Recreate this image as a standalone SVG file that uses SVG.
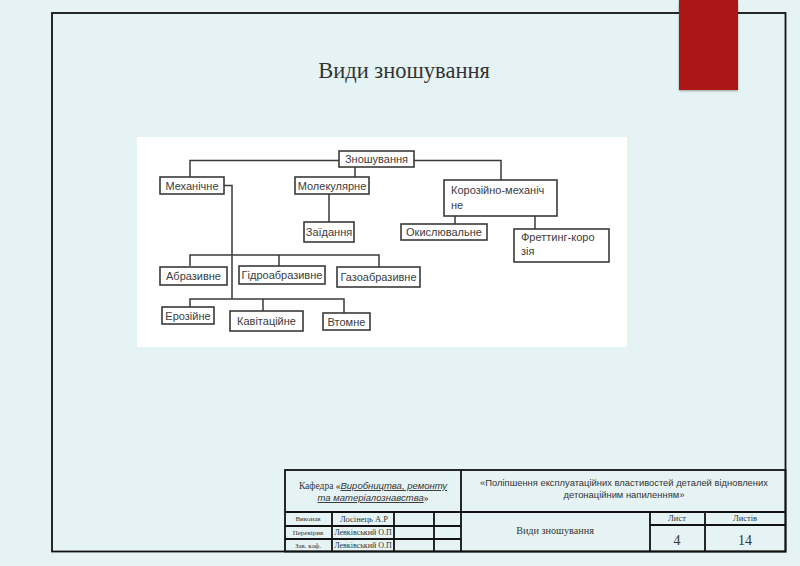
<svg xmlns="http://www.w3.org/2000/svg" width="800" height="566" viewBox="0 0 800 566">
<defs>
<style>
.n rect{fill:#fff;stroke:#3a3a3a;stroke-width:1.6}
.n text{font-family:"Liberation Sans",Arial,sans-serif;font-size:11px;fill:#3c3c3c;text-anchor:middle}
.n text.l{text-anchor:start}
.c path{fill:none;stroke:#3a3a3a;stroke-width:1.5}
.tb{fill:none;stroke:#111;stroke-width:1.8}
.ser{font-family:"Liberation Serif","Times New Roman",serif;fill:#333}
.sans{font-family:"Liberation Sans",Arial,sans-serif;fill:#333}
</style>
<filter id="sh" x="-10%" y="-10%" width="130%" height="130%"><feDropShadow dx="0" dy="1" stdDeviation="1" flood-color="#000" flood-opacity="0.35"/></filter>
</defs>
<rect width="800" height="566" fill="#e6f3f5"/>
<rect x="52" y="13" width="733.5" height="538.5" fill="none" stroke="#111" stroke-width="1.8"/>
<rect x="679" y="0" width="59" height="90" fill="#ac1616" filter="url(#sh)"/>
<text x="404" y="78" text-anchor="middle" class="ser" font-size="22.5" fill="#222">Види зношування</text>
<rect x="137" y="137" width="490" height="210" fill="#fff"/>
<g class="c">
<path d="M339 160.5H190V177M414 160.5H501V180M355 167V177M329 194V222"/>
<path d="M224 185.5H232V299M455 216V224M535 216V229"/>
<path d="M190 266V255H379V267M279 255V266"/>
<path d="M190 307V299H344V313M263 299V311"/>
</g>
<g id="n-znosh" class="n"><rect x="339" y="151" width="75" height="16"/><text x="376.5" y="163">Зношування</text></g>
<g id="n-mech" class="n"><rect x="160" y="177" width="64" height="17"/><text x="192" y="189.5">Механічне</text></g>
<g id="n-mol" class="n"><rect x="295" y="177" width="74" height="17"/><text x="332" y="189.5">Молекулярне</text></g>
<g id="n-zaid" class="n"><rect x="304" y="222" width="50" height="20"/><text x="329" y="236">Заїдання</text></g>
<g id="n-koroz" class="n"><rect x="444" y="180" width="113" height="36"/><text class="l" x="451" y="194">Корозійно-механіч</text><text class="l" x="451" y="209">не</text></g>
<g id="n-okysl" class="n"><rect x="401" y="224" width="86" height="16"/><text x="444" y="236">Окислювальне</text></g>
<g id="n-fret" class="n"><rect x="514" y="229" width="95" height="33"/><text class="l" x="521" y="241">Фреттинг-коро</text><text class="l" x="521" y="255">зія</text></g>
<g id="n-abr" class="n"><rect x="160" y="267" width="67" height="18"/><text x="193.5" y="280">Абразивне</text></g>
<g id="n-gidro" class="n"><rect x="239" y="266" width="86" height="18"/><text x="282" y="279">Гідроабразивне</text></g>
<g id="n-gazo" class="n"><rect x="337" y="267" width="83" height="20"/><text x="378.5" y="281">Газоабразивне</text></g>
<g id="n-eroz" class="n"><rect x="162" y="307" width="52" height="17"/><text x="188" y="319.5">Ерозійне</text></g>
<g id="n-kavit" class="n"><rect x="230" y="311" width="73" height="20"/><text x="266.5" y="325">Кавітаційне</text></g>
<g id="n-vtom" class="n"><rect x="323" y="313" width="47" height="17"/><text x="346.5" y="325.5">Втомне</text></g>
<g id="titleblock">
<rect x="285" y="470" width="500.5" height="81.5" fill="#e6f3f5" class="tb"/>
<path class="tb" d="M461 470V551.5M285 512H785.5M285 526H461M285 539H461M332 512V551.5M394 512V551.5M434 512V551.5M650 512V551.5M705 512V551.5M650 525H785.5"/>
<text x="373" y="489" text-anchor="middle" font-size="9.5"><tspan class="ser">Кафедра «</tspan><tspan class="sans" font-style="italic" text-decoration="underline">Виробництва, ремонту</tspan></text>
<text x="373" y="501" text-anchor="middle" font-size="9.5"><tspan class="sans" font-style="italic" text-decoration="underline">та матеріалознавства</tspan><tspan class="ser">»</tspan></text>
<text x="624" y="486" text-anchor="middle" class="sans" font-size="9.4">«Поліпшення експлуатаційних властивостей деталей відновлених</text>
<text x="624" y="498" text-anchor="middle" class="sans" font-size="9.4">детонаційним напиленням»</text>
<text x="308" y="521" text-anchor="middle" class="ser" font-size="7">Виконав</text>
<text x="308" y="535" text-anchor="middle" class="ser" font-size="7">Перевірив</text>
<text x="308" y="548" text-anchor="middle" class="ser" font-size="7">Зав. каф.</text>
<text x="364" y="521.5" text-anchor="middle" class="ser" font-size="8.5">Лосінець А.Р</text>
<text x="363" y="535" text-anchor="middle" class="ser" font-size="8">Левківський О.П</text>
<text x="363" y="548" text-anchor="middle" class="ser" font-size="8">Левківський О.П</text>
<text x="555" y="534" text-anchor="middle" class="ser" font-size="10.2">Види зношування</text>
<text x="677" y="521" text-anchor="middle" class="ser" font-size="8.5">Лист</text>
<text x="745" y="521" text-anchor="middle" class="ser" font-size="8.5">Листів</text>
<text x="677" y="545" text-anchor="middle" class="ser" font-size="14">4</text>
<text x="745" y="545" text-anchor="middle" class="ser" font-size="14">14</text>
</g>
</svg>
